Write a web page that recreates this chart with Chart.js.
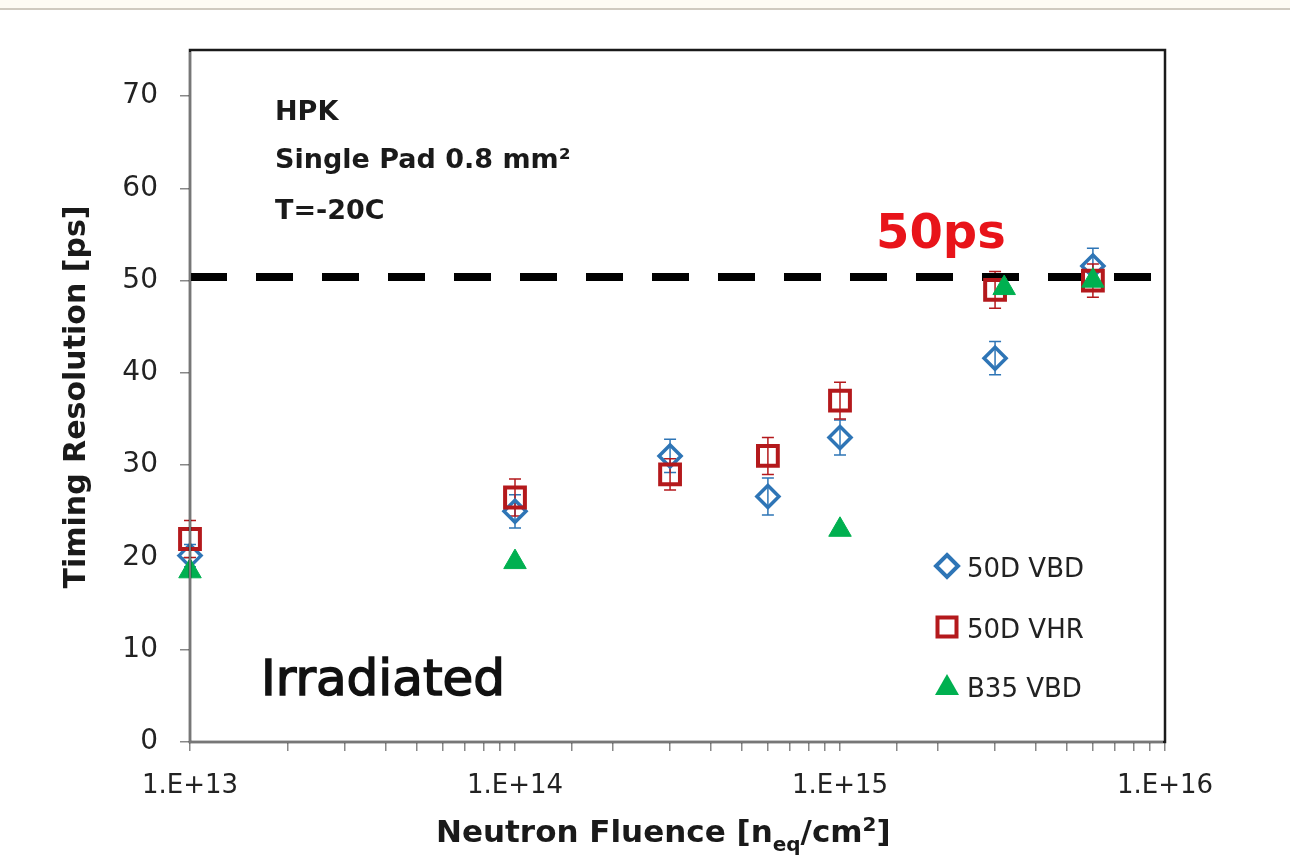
<!DOCTYPE html>
<html>
<head>
<meta charset="utf-8">
<script src="https://cdn.jsdelivr.net/npm/chart.js@4.4.1/dist/chart.umd.min.js"></script>
<style>
html, body { margin: 0; padding: 0; background: #fff; }
#grafico { display: block; }
</style>
</head>
<body>
<canvas id="grafico" width="1290" height="855"></canvas>
<script>
// Fluência (n_eq/cm2) de cada ponto
const fluencia50D = [1e13, 1e14, 3e14, 6e14, 1e15, 3e15, 6e15];
const fluenciaB35 = [1e13, 1e14, 1e15, 3.2e15, 6e15];

// Resolução temporal [ps]
const res50DVBD = [20.2, 25.0, 31.0, 26.6, 33.0, 41.6, 51.6];
const err50DVBD = [1.2, 1.8, 1.8, 2.0, 1.9, 1.8, 1.9];
const res50DVHR = [22.0, 26.5, 29.0, 31.0, 37.0, 49.0, 50.0];
const err50DVHR = [2.0, 2.0, 1.7, 2.0, 2.0, 2.0, 1.8];
const resB35VBD = [18.5, 19.5, 23.0, 49.2, 50.0];

// Linha de referência dos 50ps
const limiteX = [1e13, 1e16];
const limiteY = [50.4, 50.4];

const nomesSeries = ['50D VBD', '50D VHR', 'B35 VBD'];
const ticksY = [0, 10, 20, 30, 40, 50, 60, 70];

const azul = '#2e75b6';
const vermelho = '#b4191c';
const verde = '#00b050';
const fonte = "'DejaVu Sans', 'Open Sans', sans-serif";

function pontos(xs, ys) {
    return xs.map((x, i) => ({ x: x, y: ys[i] }));
}

// Desenha um marcador (usado na legenda)
function marcador(ctx, tipo, x, y, cor) {
    ctx.save();
    ctx.strokeStyle = cor;
    ctx.fillStyle = cor;
    ctx.lineWidth = 4;
    ctx.beginPath();
    if (tipo === 'rectRot') {
        ctx.moveTo(x, y - 11); ctx.lineTo(x + 11, y); ctx.lineTo(x, y + 11); ctx.lineTo(x - 11, y); ctx.closePath();
        ctx.stroke();
    } else if (tipo === 'rect') {
        ctx.rect(x - 9.5, y - 9.5, 19, 19);
        ctx.stroke();
    } else {
        ctx.moveTo(x, y - 12); ctx.lineTo(x + 12, y + 9); ctx.lineTo(x - 12, y + 9); ctx.closePath();
        ctx.fill();
    }
    ctx.restore();
}

const extras = {
    id: 'extras',
    beforeDraw(chart) {
        const ctx = chart.ctx;
        ctx.save();
        ctx.fillStyle = '#fdfbf4';
        ctx.fillRect(0, 0, chart.width, 8);
        ctx.fillStyle = '#cfcac0';
        ctx.fillRect(0, 8, chart.width, 2);
        ctx.restore();
    },
    // barras de erro por baixo dos marcadores
    beforeDatasetsDraw(chart) {
        const ctx = chart.ctx;
        const escalaY = chart.scales.y;
        chart.data.datasets.forEach((ds, i) => {
            if (!ds.erros) return;
            const meta = chart.getDatasetMeta(i);
            ctx.save();
            ctx.strokeStyle = ds.borderColor;
            ctx.lineWidth = 1.5;
            meta.data.forEach((pt, j) => {
                const e = ds.erros[j];
                const y1 = escalaY.getPixelForValue(ds.data[j].y + e);
                const y2 = escalaY.getPixelForValue(ds.data[j].y - e);
                ctx.beginPath();
                ctx.moveTo(pt.x, y1); ctx.lineTo(pt.x, y2);
                ctx.moveTo(pt.x - 6, y1); ctx.lineTo(pt.x + 6, y1);
                ctx.moveTo(pt.x - 6, y2); ctx.lineTo(pt.x + 6, y2);
                ctx.stroke();
            });
            ctx.restore();
        });
    },
    afterDraw(chart) {
        const ctx = chart.ctx;
        const a = chart.chartArea;
        ctx.save();

        // moldura
        ctx.strokeStyle = '#1a1a1a';
        ctx.lineWidth = 2.5;
        ctx.strokeRect(a.left, a.top, a.right - a.left, a.bottom - a.top);
        ctx.strokeStyle = '#777';
        ctx.lineWidth = 2;
        ctx.beginPath();
        ctx.moveTo(a.left, a.top + 2); ctx.lineTo(a.left, a.bottom); ctx.lineTo(a.right - 2, a.bottom);
        ctx.stroke();

        // textos no gráfico
        ctx.fillStyle = '#1a1a1a';
        ctx.textBaseline = 'alphabetic';
        ctx.textAlign = 'left';
        ctx.font = 'bold 27px ' + fonte;
        ctx.fillText('HPK', 275, 120);
        ctx.fillText('Single Pad 0.8 mm²', 275, 168);
        ctx.fillText('T=-20C', 275, 219);

        ctx.fillStyle = '#e8141a';
        ctx.font = 'bold 48px ' + fonte;
        ctx.fillText('50ps', 876, 248);

        ctx.fillStyle = '#111';
        ctx.strokeStyle = '#111';
        ctx.lineWidth = 1.5;
        ctx.font = '50px ' + fonte;
        ctx.fillText('Irradiated', 261, 695);
        ctx.strokeText('Irradiated', 261, 695);

        // legenda
        const tipos = ['rectRot', 'rect', 'triangle'];
        const cores = [azul, vermelho, verde];
        const linhas = [577, 638, 697];
        ctx.font = '26px ' + fonte;
        nomesSeries.forEach((nome, i) => {
            marcador(ctx, tipos[i], 947, linhas[i] - 11, cores[i]);
            ctx.fillStyle = '#222';
            ctx.fillText(nome, 967, linhas[i]);
        });

        // título do eixo Y
        ctx.save();
        ctx.translate(85, 397);
        ctx.rotate(-Math.PI / 2);
        ctx.textAlign = 'center';
        ctx.font = 'bold 30px ' + fonte;
        ctx.fillStyle = '#1a1a1a';
        ctx.fillText('Timing Resolution [ps]', 0, 0);
        ctx.restore();

        // título do eixo X com índice e expoente
        const partes = [
            { t: 'Neutron Fluence [n', f: 'bold 31px ', dy: 0 },
            { t: 'eq', f: 'bold 20px ', dy: 9 },
            { t: '/cm', f: 'bold 31px ', dy: 0 },
            { t: '2', f: 'bold 20px ', dy: -11 },
            { t: ']', f: 'bold 31px ', dy: 0 }
        ];
        let x = 436;
        ctx.fillStyle = '#1a1a1a';
        ctx.textAlign = 'left';
        partes.forEach(p => {
            ctx.font = p.f + fonte;
            ctx.fillText(p.t, x, 842 + p.dy);
            x += ctx.measureText(p.t).width;
        });

        ctx.restore();
    }
};

new Chart(document.getElementById('grafico'), {
    type: 'scatter',
    data: {
        datasets: [
            {
                type: 'line',
                label: '50ps',
                data: pontos(limiteX, limiteY),
                borderColor: '#000',
                borderWidth: 8,
                borderDash: [37, 29],
                pointRadius: 0,
                order: 4
            },
            {
                label: nomesSeries[0],
                data: pontos(fluencia50D, res50DVBD),
                erros: err50DVBD,
                pointStyle: 'rectRot',
                pointRadius: 11,
                borderColor: azul,
                backgroundColor: 'rgba(0,0,0,0)',
                borderWidth: 3.5,
                clip: false,
                order: 3
            },
            {
                label: nomesSeries[1],
                data: pontos(fluencia50D, res50DVHR),
                erros: err50DVHR,
                pointStyle: 'rect',
                pointRadius: 14,
                borderColor: vermelho,
                backgroundColor: 'rgba(0,0,0,0)',
                borderWidth: 4,
                clip: false,
                order: 2
            },
            {
                label: nomesSeries[2],
                data: pontos(fluenciaB35, resB35VBD),
                pointStyle: 'triangle',
                pointRadius: 13,
                borderColor: verde,
                backgroundColor: verde,
                borderWidth: 1,
                clip: false,
                order: 1
            }
        ]
    },
    options: {
        responsive: false,
        animation: false,
        layout: { padding: { left: 0, top: 50, right: 125, bottom: 0 } },
        plugins: {
            legend: { display: false },
            tooltip: { enabled: false }
        },
        scales: {
            x: {
                type: 'logarithmic',
                min: 1e13,
                max: 1e16,
                border: { display: false },
                grid: { drawOnChartArea: false, drawTicks: true, tickLength: 9, color: '#888', lineWidth: 1.5 },
                ticks: {
                    autoSkip: false,
                    maxRotation: 0,
                    padding: 20,
                    color: '#222',
                    font: { family: fonte, size: 26 },
                    callback: function(v) {
                        const exp = Math.log10(v);
                        if (Math.abs(exp - Math.round(exp)) > 1e-6) return '';
                        return '1.E+' + Math.round(exp);
                    }
                },
                afterFit: function(s) { s.height = 113; }
            },
            y: {
                min: 0,
                max: 75,
                border: { display: false },
                grid: { drawOnChartArea: false, drawTicks: true, tickLength: 10, color: '#888', lineWidth: 1.5 },
                ticks: {
                    padding: 22,
                    color: '#222',
                    font: { family: fonte, size: 28 }
                },
                afterBuildTicks: function(s) {
                    s.ticks = ticksY.map(v => ({ value: v }));
                },
                afterFit: function(s) { s.width = 190; }
            }
        }
    },
    plugins: [extras]
});
</script>
</body>
</html>
